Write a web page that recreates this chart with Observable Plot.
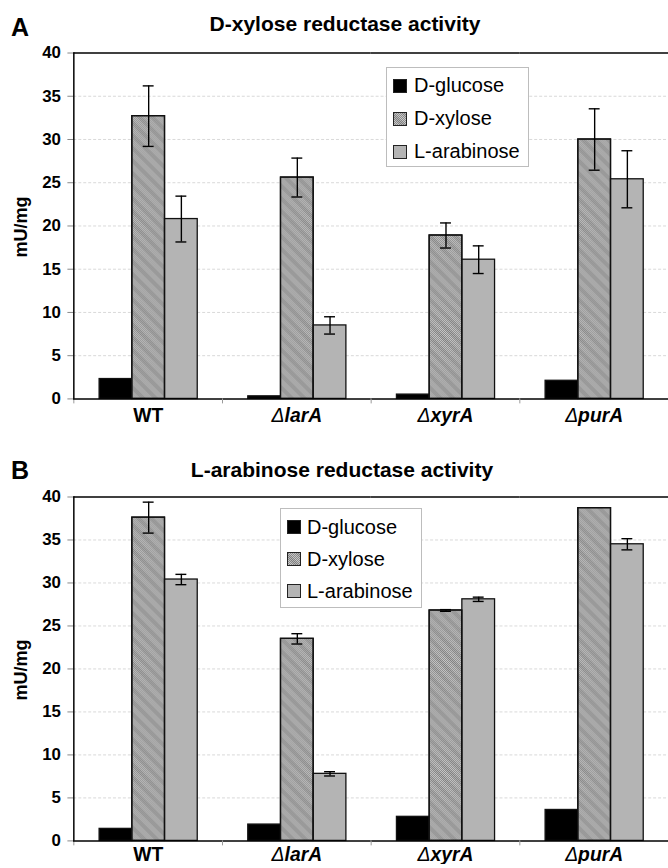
<!DOCTYPE html>
<html>
<head>
<meta charset="utf-8">
<script src="https://cdn.jsdelivr.net/npm/d3@7"></script>
<script src="https://cdn.jsdelivr.net/npm/@observablehq/plot@0.6"></script>
<style>
  body { margin: 0; background: #fff; font-family: "Liberation Sans", Arial, sans-serif; }
  #wrap { position: relative; width: 668px; height: 868px; overflow: hidden; background: #fff; }
  .chart { position: absolute; left: 0; }
  .legend { position: absolute; border: 1px solid #bdbdbd; background: #fff; box-sizing: border-box; }
  .legend .row { position: relative; display: flex; align-items: center; font-size: 20px; color: #000; white-space: nowrap; }
  .legend .row svg { position: absolute; }
  .legend .row span { position: absolute; }
  #overlay { position: absolute; left: 0; top: 0; pointer-events: none; }
</style>
</head>
<body>
<svg width="0" height="0" style="position:absolute">
  <defs>
    <pattern id="chk" width="2" height="2" patternUnits="userSpaceOnUse">
      <rect width="2" height="2" fill="#c8c8c8"/>
      <rect width="1" height="1" fill="#8a8a8a"/>
      <rect x="1" y="1" width="1" height="1" fill="#8a8a8a"/>
    </pattern>
    <pattern id="stripes" width="9" height="9" patternUnits="userSpaceOnUse" patternTransform="rotate(45)">
      <rect width="9" height="4" fill="#000" fill-opacity="0.09"/>
    </pattern>
  </defs>
</svg>
<div id="wrap">
  <div id="chartA" class="chart" style="top:0px"></div>
  <div id="chartB" class="chart" style="top:440px"></div>
  <svg id="overlay" width="668" height="868" font-family="'Liberation Sans', Arial, sans-serif" font-weight="bold">
    <text x="11" y="36" font-size="25">A</text>
    <text x="345" y="30.5" font-size="21" text-anchor="middle">D-xylose reductase activity</text>
    <text transform="translate(27,227) rotate(-90)" font-size="18" text-anchor="middle">mU/mg</text>
    <text x="11" y="479" font-size="25">B</text>
    <text x="342" y="477" font-size="21" text-anchor="middle">L-arabinose reductase activity</text>
    <text transform="translate(27,670) rotate(-90)" font-size="18" text-anchor="middle">mU/mg</text>
  </svg>
</div>
<script>
// ---- data ----
const strains = ["WT", "ΔlarA", "ΔxyrA", "ΔpurA"];
const sugars = ["D-glucose", "D-xylose", "L-arabinose"];
const yTicks = [0, 5, 10, 15, 20, 25, 30, 35, 40];

// Panel A: D-xylose reductase activity (mU/mg)
const glucoseA = [2.3, 0.3, 0.5, 2.1];
const xyloseA = [32.7, 25.6, 18.9, 30.0];
const arabinoseA = [20.8, 8.5, 16.1, 25.4];
const glucoseErrA = [0, 0, 0, 0];
const xyloseErrA = [3.5, 2.25, 1.45, 3.55];
const arabinoseErrA = [2.65, 1.0, 1.6, 3.3];

// Panel B: L-arabinose reductase activity (mU/mg)
const glucoseB = [1.4, 1.9, 2.8, 3.6];
const xyloseB = [37.6, 23.5, 26.8, 38.7];
const arabinoseB = [30.4, 7.8, 28.1, 34.5];
const glucoseErrB = [0, 0, 0, 0];
const xyloseErrB = [1.8, 0.6, 0.1, 0];
const arabinoseErrB = [0.6, 0.25, 0.25, 0.65];

const fills = { "D-glucose": "#000", "D-xylose": "url(#chk)", "L-arabinose": "#b4b4b4" };

function table(series, errs) {
  const rows = [];
  sugars.forEach((s, si) => {
    strains.forEach((st, i) => {
      rows.push({ strain: st, sugar: s, value: series[si][i], err: errs[si][i] });
    });
  });
  return rows;
}

function chart(rows, { height, marginTop, marginBottom, labelPad }) {
  const withErr = rows.filter(d => d.err > 0);
  const xyl = rows.filter(d => d.sugar === "D-xylose");
  const svg = Plot.plot({
    width: 674, height, marginTop, marginBottom, marginLeft: 74, marginRight: 0,
    style: { fontFamily: "'Liberation Sans', Arial, sans-serif", background: "transparent", color: "#000" },
    fx: { domain: strains, padding: 0, label: null },
    x: { domain: sugars, paddingInner: 0, paddingOuter: 0.73, axis: null },
    y: { domain: [0, 40], axis: null },
    color: { type: "identity" },
    marks: [
      Plot.gridY(yTicks.filter(t => t > 0 && t < 40), { stroke: "#cfcfcf", strokeOpacity: 1, strokeDasharray: "3,2", strokeWidth: 0.8 }),
      Plot.barY(rows, { fx: "strain", x: "sugar", y: "value", fill: d => fills[d.sugar], stroke: "#111", strokeWidth: 1.3 }),
      Plot.barY(xyl, { fx: "strain", x: "sugar", y: "value", fill: "url(#stripes)", stroke: "#111", strokeWidth: 1.3 }),
      Plot.ruleX(withErr, { fx: "strain", x: "sugar", y1: d => d.value - d.err, y2: d => d.value + d.err, stroke: "#000", strokeWidth: 1.4 }),
      Plot.tickY(withErr, { fx: "strain", x: "sugar", y: d => d.value + d.err, insetLeft: 11, insetRight: 11, stroke: "#000", strokeWidth: 1.4 }),
      Plot.tickY(withErr, { fx: "strain", x: "sugar", y: d => d.value - d.err, insetLeft: 11, insetRight: 11, stroke: "#000", strokeWidth: 1.4 }),
      Plot.ruleY([0], { stroke: "#000", strokeWidth: 1.5 }),
      Plot.ruleY([40], { stroke: "#000", strokeWidth: 1.5 }),
      Plot.axisY({ ticks: yTicks, tickSize: 6, tickPadding: 7, fontSize: 17, fontWeight: "bold", stroke: "#888", label: null }),
      Plot.axisFx({ anchor: "bottom", tickSize: 0, tickPadding: labelPad, fontSize: 19.5, fontWeight: "bold", label: null }),
      Plot.axisFx({ anchor: "bottom", tickSize: 5, tickPadding: 0, tickFormat: () => "", dx: -75, stroke: "#999", label: null }),
      Plot.frame({ anchor: "left", facetAnchor: "left", stroke: "#000", strokeWidth: 1.5 })
    ]
  });
  // italic gene names with a thin Δ
  svg.querySelectorAll("text").forEach(t => {
    const s = t.textContent;
    if (s.startsWith("Δ") && t.children.length === 0) {
      t.textContent = "";
      t.setAttribute("font-style", "italic");
      const a = document.createElementNS("http://www.w3.org/2000/svg", "tspan");
      a.setAttribute("font-weight", "normal");
      a.textContent = "Δ";
      const b = document.createElementNS("http://www.w3.org/2000/svg", "tspan");
      b.textContent = s.slice(1);
      t.appendChild(a); t.appendChild(b);
    }
  });
  return svg;
}

function legend(parent, { left, top, width, height, rowH, padTop, swLeft, textLeft }) {
  const box = document.createElement("div");
  box.className = "legend";
  Object.assign(box.style, { left: left + "px", top: top + "px", width: width + "px", height: height + "px", paddingTop: padTop + "px" });
  sugars.forEach(s => {
    const row = document.createElement("div");
    row.className = "row";
    row.style.height = rowH + "px";
    const extra = s === "D-xylose" ? '<rect x="0.5" y="0.5" width="13" height="13" fill="url(#stripes)"/>' : "";
    row.innerHTML = `<svg width="14" height="14" style="left:${swLeft}px;top:${(rowH - 14) / 2}px">
        <rect x="0.5" y="0.5" width="13" height="13" fill="${fills[s]}" stroke="#222"/>${extra}
        <rect x="0.5" y="0.5" width="13" height="13" fill="none" stroke="#222"/></svg>
      <span style="left:${textLeft}px;line-height:${rowH}px;top:0">${s}</span>`;
    box.appendChild(row);
  });
  parent.appendChild(box);
}

document.getElementById("chartA").appendChild(
  chart(table([glucoseA, xyloseA, arabinoseA], [glucoseErrA, xyloseErrA, arabinoseErrA]), { height: 430, marginTop: 53, marginBottom: 28, labelPad: 9 })
);
document.getElementById("chartB").appendChild(
  chart(table([glucoseB, xyloseB, arabinoseB], [glucoseErrB, xyloseErrB, arabinoseErrB]), { height: 428, marginTop: 57, marginBottom: 24, labelPad: 6 })
);
const wrap = document.getElementById("wrap");
legend(wrap, { left: 386, top: 67, width: 143, height: 100, rowH: 33, padTop: 1, swLeft: 6, textLeft: 27 });
legend(wrap, { left: 280, top: 508, width: 142, height: 100, rowH: 32, padTop: 2, swLeft: 6, textLeft: 26 });
// keep overlay on top
wrap.appendChild(document.getElementById("overlay"));
</script>
</body>
</html>
